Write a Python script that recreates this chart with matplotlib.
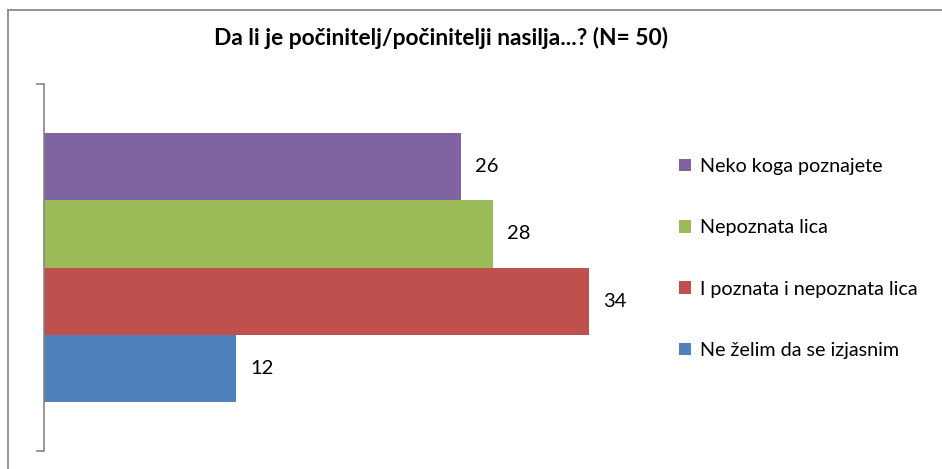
import matplotlib
matplotlib.use("Agg")
from matplotlib import pyplot as plt
from matplotlib.lines import Line2D
from matplotlib.patches import Patch

# answers, listed bottom to top as they sit in the bar group
answers = ["Ne želim da se izjasnim", "I poznata i nepoznata lica",
           "Nepoznata lica", "Neko koga poznajete"]
counts = [12, 34, 28, 26]
colors = ["#4F81BD", "#C0504D", "#9BBB59", "#8064A2"]

title = "Da li je počinitelj/počinitelji nasilja...? (N= 50)"

plt.rcParams['font.family'] = ['Lato', 'DejaVu Sans']

W, H = 942, 469
fig = plt.figure(figsize=(W / 100, H / 100), dpi=100)

# plot area in pixel terms
x0, x1 = 44, 653
y_top, y_bot = 84, 451
ax = fig.add_axes([x0 / W, (H - y_bot) / H, (x1 - x0) / W, (y_bot - y_top) / H])

bar_h = 0.1826
n = len(counts)
for i, (lab, val, col) in enumerate(zip(answers, counts, colors)):
    yc = (i - (n - 1) / 2) * bar_h
    bars = ax.barh(yc, val, height=bar_h, color=col, label=lab)
    ax.bar_label(bars, labels=[str(val)], padding=10, fontsize=14.5, color='black')

ax.set_xlim(0, 38)
ax.set_ylim(-0.5, 0.5)
ax.set_xticks([])
ax.set_yticks([-0.5, 0.5])
ax.set_yticklabels([])
ax.tick_params(axis='y', length=6, width=1.2, color='#868686', direction='out')
for s in ['top', 'right', 'bottom']:
    ax.spines[s].set_visible(False)
ax.spines['left'].set_color('#868686')
ax.spines['left'].set_linewidth(1.2)

fig.text(441 / W, 1 - 38 / H, title, ha='center', va='center',
         fontsize=16.4, fontweight='bold')

handles = [Patch(facecolor=c) for c in colors[::-1]]
fig.legend(handles, answers[::-1], loc='upper left',
           bbox_to_anchor=(671 / W, 1 - 150 / H), frameon=False,
           fontsize=14.2, handlelength=0.6, handleheight=0.6,
           handletextpad=0.45, labelspacing=2.25, borderaxespad=0)

# outer chart frame (left and top edges)
fig.add_artist(Line2D([8 / W, 8 / W], [0, 1 - 10 / H], color='#8c8c8c', lw=1.3))
fig.add_artist(Line2D([8 / W, 1], [1 - 10 / H, 1 - 10 / H], color='#8c8c8c', lw=1.3))

fig.savefig("out.png", dpi=100)
